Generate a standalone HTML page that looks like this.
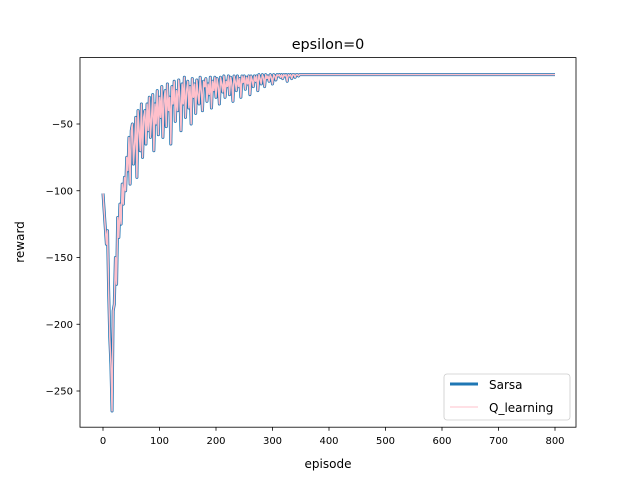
<!DOCTYPE html>
<html><head><meta charset="utf-8"><style>
body{margin:0;background:#fff}
svg text{font-family:"DejaVu Sans","Liberation Sans",sans-serif;fill:#000}
</style></head><body>
<svg id="chart" width="640" height="480" xmlns="http://www.w3.org/2000/svg">
<rect width="640" height="480" fill="#fff"/>
<g id="plot"></g>
<rect x="80" y="57.6" width="496" height="369.6" fill="none" stroke="#000" stroke-width="0.8"/>
<g id="xt"></g><g id="yt"></g>
<text x="328" y="49" font-size="14.4" text-anchor="middle">epsilon=0</text>
<text x="328" y="468" font-size="12" text-anchor="middle">episode</text>
<text x="24" y="242" font-size="12" text-anchor="middle" transform="rotate(-90 24 242)">reward</text>
<g>
<rect x="444" y="374" width="126" height="46" rx="3" fill="#fff" fill-opacity="0.8" stroke="#ccc" stroke-width="0.8"/>
<line x1="450" y1="384" x2="478" y2="384" stroke="#1f77b4" stroke-width="3"/>
<text x="489" y="389" font-size="12">Sarsa</text>
<line x1="450" y1="407" x2="478" y2="407" stroke="pink" stroke-width="1"/>
<text x="489" y="412" font-size="12">Q_learning</text>
</g>
</svg>
<script>
const sarsa=[
-102,-140,-130,-175,-210,-230,-265,-190,-185,-150,-170,-120,-135,-110,-125,-95,
-110,-90,-100,-75,-85,-60,-95,-55,-50,-80,-65,-45,-90,-40,-55,-70,
-35,-75,-45,-40,-65,-35,-55,-30,-60,-45,-28,-70,-35,-50,-25,-58,
-30,-45,-22,-60,-32,-25,-52,-20,-40,-30,-65,-22,-35,-18,-48,-25,
-40,-17,-30,-55,-20,-35,-15,-45,-25,-18,-38,-22,-50,-16,-30,-20,
-42,-17,-28,-35,-15,-25,-40,-18,-22,-16,-33,-20,-28,-15,-38,-18,
-25,-15,-30,-16,-22,-35,-15,-20,-26,-14,-30,-18,-22,-14,-28,-15,
-20,-33,-14,-18,-25,-14,-22,-16,-30,-14,-19,-14,-24,-15,-20,-14,
-28,-14,-17,-22,-14,-18,-14,-25,-13,-16,-20,-13,-15,-22,-13,-16,
-14,-18,-13,-15,-20,-13,-14,-17,-13,-14,-13,-15,-13,-16,-13,-14,
-13,-18,-13,-14,-13,-16,-13,-13,-15,-13,-13,-14,-13,-13,-13,-13,
-13];
const qlearning=sarsa.slice();
const episodes=sarsa.map((v,i)=>i<sarsa.length-1?i*2+4:800);
episodes[0]=0;
const xTicks=[0,100,200,300,400,500,600,700,800];
const yTicks=[-250,-200,-150,-100,-50];
const X=e=>103+e*0.565;
const Y=v=>124-(v+50)*1.335;
const NS="http://www.w3.org/2000/svg";
function linePath(vals){return episodes.map((e,i)=>(i?'L':'M')+X(e).toFixed(2)+','+Y(vals[i]).toFixed(2)).join('');}
const plot=document.getElementById('plot');
const p1=document.createElementNS(NS,'path');
p1.setAttribute('d',linePath(sarsa));p1.setAttribute('fill','none');p1.setAttribute('stroke','#1f77b4');p1.setAttribute('stroke-width','3');p1.setAttribute('stroke-linejoin','round');


plot.appendChild(p1);
const p2=document.createElementNS(NS,'path');
p2.setAttribute('d',linePath(qlearning));p2.setAttribute('fill','none');p2.setAttribute('stroke','pink');p2.setAttribute('stroke-width','1.5');p2.setAttribute('stroke-linejoin','round');


plot.appendChild(p2);
const xt=document.getElementById('xt');
xTicks.forEach(t=>{const g=document.createElementNS(NS,'g');


g.innerHTML=`<line x1="${X(t)}" y1="427.2" x2="${X(t)}" y2="430.7" stroke="#000" stroke-width="0.8"/><text x="${X(t)}" y="444" font-size="10" text-anchor="middle">${t}</text>`;xt.appendChild(g);});
const yt=document.getElementById('yt');
yTicks.forEach(t=>{const g=document.createElementNS(NS,'g');


g.innerHTML=`<line x1="76.5" y1="${Y(t)}" x2="80" y2="${Y(t)}" stroke="#000" stroke-width="0.8"/><text x="73" y="${Y(t)+3.5}" font-size="10" text-anchor="end">\u2212${-t}</text>`;yt.appendChild(g);});
</script>
</body></html>
